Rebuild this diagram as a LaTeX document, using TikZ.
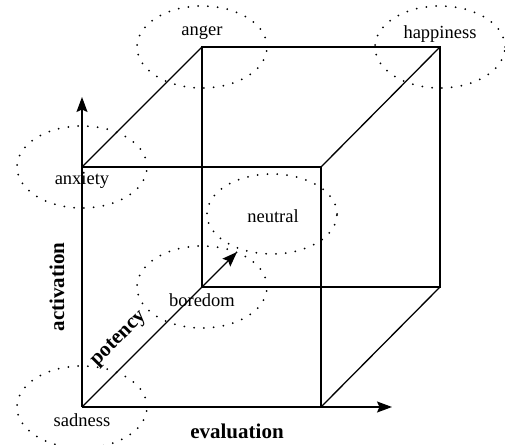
\documentclass[tikz,border=0pt]{standalone}
\usepackage{fontspec}
\setmainfont{Liberation Serif}
\usetikzlibrary{positioning, arrows.meta, shapes.geometric}

\begin{document}
\begin{tikzpicture}[
    x=1pt, y=-1pt,
    edge/.style={line width=1.3pt},
    axis/.style={line width=1.4pt, -{Stealth[length=15pt, width=11pt, inset=2.5pt]}},
    region/.style={ellipse, draw, line width=2pt, dash pattern=on 0pt off 9.8pt, line cap=round, minimum width=130pt, minimum height=82pt, inner sep=0pt},
    emotion/.style={font=\fontsize{18.5}{20}\selectfont, inner sep=0pt},
    axislabel/.style={font=\fontsize{21}{23}\selectfont\bfseries, inner sep=0pt}
]
\useasboundingbox (0,0) rectangle (505,444);

% Cube corners
\coordinate (fbl) at (82,407);
\coordinate (fbr) at (321,407);
\coordinate (ftl) at (82,167);
\coordinate (ftr) at (321,167);
\coordinate (bbl) at (202,287);
\coordinate (bbr) at (440,287);
\coordinate (btl) at (202,47);
\coordinate (btr) at (440,47);

% Axis ends
\coordinate (actend) at (82,97);
\coordinate (evalend) at (392,407);
\coordinate (potend) at (237,252);

% Emotion regions
\node[region] (angerreg) at (btl) {};
\node[region] (happyreg) at (btr) {};
\node[region] (anxietyreg) at (ftl) {};
\node[region, minimum height=80pt] (neutralreg) at (272,214) {};
\node[region] (boredomreg) at (bbl) {};
\node[region] (sadnessreg) at (fbl) {};

% Emotion labels
\node[emotion] (anger) at (202,33) {anger};
\node[emotion] (happiness) at (440,34) {happiness};
\node[emotion] (anxiety) at (82,180) {anxiety};
\node[emotion] (neutral) at (273,216) {neutral};
\node[emotion] (boredom) at (202,300) {boredom};
\node[emotion] (sadness) at (82,420) {sadness};

% Cube edges
\draw[edge] (ftl) -- (ftr) -- (fbr);
\draw[edge] (btl) -- (btr) -- (bbr) -- (bbl) -- cycle;
\draw[edge] (ftl) -- (btl);
\draw[edge] (ftr) -- (btr);
\draw[edge] (fbr) -- (bbr);

% Axes
\draw[axis] (fbl) -- (actend);
\draw[axis] (fbl) -- (evalend);
\draw[axis] (fbl) -- (potend);

% Axis labels
\node[axislabel, rotate=90] (activation) at (57,287) {activation};
\node[axislabel] (evaluation) at (237,431) {evaluation};
\node[axislabel, rotate=45] (potency) at (119,339) {potency};
\end{tikzpicture}
\end{document}
